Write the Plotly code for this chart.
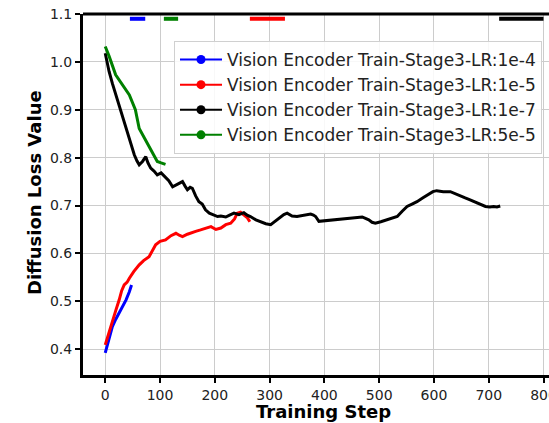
import plotly.graph_objects as go

# ---- data ----
blue_x = [0, 5, 13, 19, 25.5, 32, 38, 44, 48]
blue_y = [0.392, 0.415, 0.447, 0.462, 0.475, 0.490, 0.503, 0.520, 0.534]

red_x = [0, 6, 13, 19, 25.5, 30, 34.6, 40, 44, 52, 62, 70, 80, 86, 92, 100, 110, 120, 129, 135,
         141, 150, 158, 165, 174, 183, 193, 202, 211, 220, 229, 236, 241, 247, 253, 259, 264]
red_y = [0.409, 0.430, 0.454, 0.480, 0.503, 0.522, 0.534, 0.540, 0.548, 0.562, 0.576, 0.585, 0.593,
         0.605, 0.618, 0.625, 0.628, 0.637, 0.642, 0.638, 0.635, 0.640, 0.644, 0.646, 0.649, 0.652,
         0.656, 0.650, 0.653, 0.660, 0.663, 0.672, 0.684, 0.686, 0.680, 0.675, 0.666]

black_x = [0, 3, 7, 13, 19.5, 26, 32, 38, 44, 49, 53, 58, 62, 68, 74, 78, 83, 89, 95, 102, 110, 116,
           123, 132, 141, 146, 150, 155, 159, 165, 171, 177, 183, 190, 199, 205, 211, 220, 227, 235,
           244, 253, 259, 265, 275, 284, 293, 302, 311, 320, 326, 332, 341, 350, 362, 375, 380, 384,
           390, 400, 417, 432, 447, 458, 469, 475, 481, 487, 493, 503, 514, 523, 533, 542, 551, 560,
           569, 580, 590, 598, 605, 617, 630, 640, 648, 657, 666, 680, 694, 702, 709, 715, 721]
black_y = [1.018, 1.000, 0.980, 0.955, 0.931, 0.905, 0.882, 0.860, 0.840, 0.822, 0.806, 0.793, 0.785,
           0.792, 0.802, 0.789, 0.778, 0.772, 0.764, 0.768, 0.760, 0.752, 0.739, 0.745, 0.750, 0.740,
           0.733, 0.738, 0.736, 0.720, 0.708, 0.703, 0.691, 0.684, 0.680, 0.677, 0.678, 0.676, 0.680,
           0.684, 0.681, 0.685, 0.680, 0.677, 0.670, 0.666, 0.662, 0.660, 0.668, 0.677, 0.681, 0.684,
           0.678, 0.677, 0.680, 0.682, 0.680, 0.677, 0.667, 0.668, 0.670, 0.671, 0.673, 0.674, 0.676,
           0.673, 0.670, 0.665, 0.663, 0.666, 0.670, 0.672, 0.677, 0.688, 0.698, 0.703, 0.708, 0.716,
           0.724, 0.729, 0.731, 0.729, 0.729, 0.724, 0.719, 0.716, 0.712, 0.705, 0.698, 0.697, 0.698,
           0.697, 0.699]

green_x = [0, 7, 19, 30, 44, 55, 62, 72, 80, 88, 95, 102, 110]
green_y = [1.032, 1.012, 0.973, 0.955, 0.931, 0.900, 0.861, 0.840, 0.823, 0.808, 0.792, 0.789, 0.786]

# short marks along the top edge (x start, x end)
top_blue_x = [45, 73]
top_green_x = [107, 133]
top_red_x = [264, 328]
top_black_x = [719, 800]
top_y = 1.09

names = ["Vision Encoder Train-Stage3-LR:1e-4", "Vision Encoder Train-Stage3-LR:1e-5",
         "Vision Encoder Train-Stage3-LR:1e-7", "Vision Encoder Train-Stage3-LR:5e-5"]
colors = ["#0000ff", "#ff0000", "#000000", "#008000"]

x_ticks = [0, 100, 200, 300, 400, 500, 600, 700, 800]
y_ticks = [0.4, 0.5, 0.6, 0.7, 0.8, 0.9, 1.0, 1.1]
y_ticklabels = ["0.4", "0.5", "0.6", "0.7", "0.8", "0.9", "1.0", "1.1"]

xs = [blue_x, red_x, black_x, green_x]
ys = [blue_y, red_y, black_y, green_y]
tops = [top_blue_x, top_red_x, top_black_x, top_green_x]

fig = go.Figure()
for x, y, c in zip(xs, ys, colors):
    fig.add_trace(go.Scatter(x=x, y=y, mode="lines", line=dict(color=c, width=3),
                             showlegend=False, hoverinfo="skip"))
for tx, c in zip(tops, colors):
    fig.add_trace(go.Scatter(x=tx, y=[top_y, top_y], mode="lines", line=dict(color=c, width=4),
                             showlegend=False, hoverinfo="skip", cliponaxis=False))
for n, c in zip(names, colors):
    fig.add_trace(go.Scatter(x=[None], y=[None], mode="lines+markers", name=n,
                             line=dict(color=c, width=2), marker=dict(color=c, size=9)))

L, T, B = 83, 14, 48
W, H = 549, 423
plot_w = W - L
plot_h = H - T - B
plot_bottom = H - B

font_family = "DejaVu Sans"
fig.update_layout(
    width=W, height=H,
    margin=dict(l=L, r=0, t=T, b=B, autoexpand=False),
    paper_bgcolor="white", plot_bgcolor="white",
    font=dict(family=font_family, size=14, color="#222222"),
    legend=dict(x=(174 - 83) / plot_w, y=(plot_bottom - 41) / plot_h, xanchor="left", yanchor="top",
                bgcolor="rgba(255,255,255,0.85)", bordercolor="#d0d0d0", borderwidth=1,
                font=dict(size=17, color="#222222"), tracegroupgap=0, itemwidth=42),
    xaxis=dict(range=[-40.6, 810], tickmode="array", tickvals=x_ticks, ticklabeloverflow="allow",
               showgrid=True, gridcolor="#cccccc", gridwidth=1, zeroline=False,
               showline=True, linecolor="black", linewidth=3, automargin=False,
               ticks="outside", ticklen=5, tickwidth=1.5, tickcolor="black"),
    yaxis=dict(range=[0.346, 1.1], tickmode="array", tickvals=y_ticks, ticktext=y_ticklabels,
               showgrid=True, gridcolor="#cccccc", gridwidth=1, zeroline=False,
               showline=True, linecolor="black", linewidth=3, automargin=False,
               ticks="outside", ticklen=5, tickwidth=1.5, tickcolor="black"),
)
fig.add_shape(type="line", xref="paper", yref="paper", x0=0, x1=1, y0=1, y1=1,
              line=dict(color="black", width=3))
fig.add_annotation(text="<b>Training Step</b>", xref="paper", yref="paper",
                   x=(323 - 83) / plot_w, y=(plot_bottom - 412) / plot_h,
                   showarrow=False, xanchor="center", yanchor="middle",
                   font=dict(size=18, color="black"))
fig.add_annotation(text="<b>Diffusion Loss Value</b>", xref="paper", yref="paper",
                   x=(34 - 83) / plot_w, y=(plot_bottom - 193) / plot_h,
                   showarrow=False, xanchor="center", yanchor="middle", textangle=-90,
                   font=dict(size=18, color="black"))

fig.write_html("out.html", config={"displayModeBar": False},
               post_script="document.body.style.margin='0';document.body.style.overflow='hidden';")
